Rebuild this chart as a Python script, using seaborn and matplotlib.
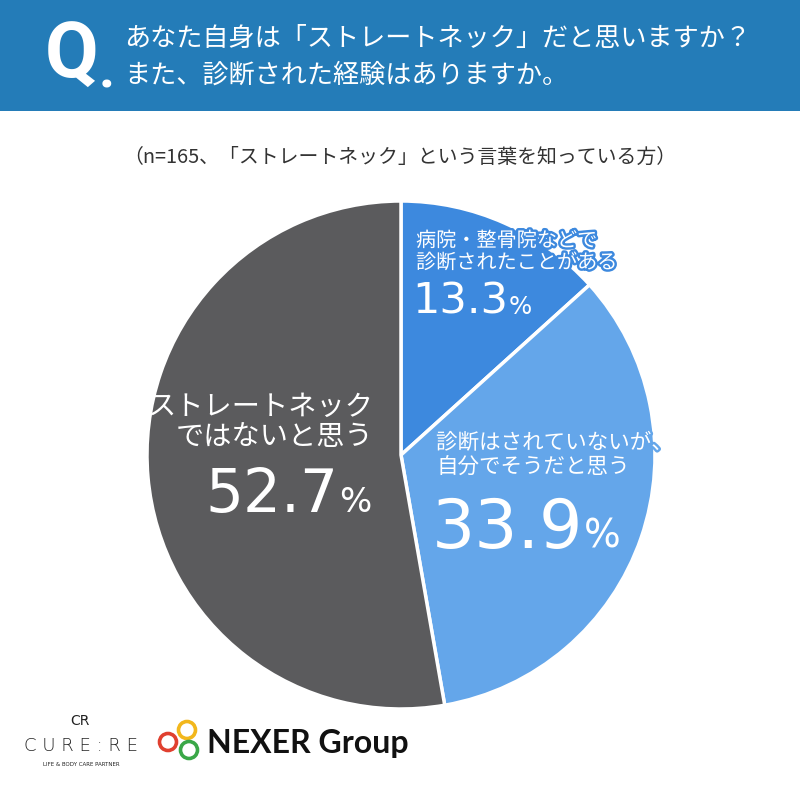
import matplotlib
matplotlib.use("Agg")
import matplotlib.pyplot as plt
import matplotlib.patheffects as pe
from matplotlib.patches import Rectangle, Circle
import seaborn as sns

# data
labels = ["病院・整骨院などで\n診断されたことがある",
          "診断はされていないが、\n自分でそうだと思う",
          "ストレートネック\nではないと思う"]
values = [13.3, 33.9, 52.7]
colors = ["#3D89DE", "#64A6EA", "#5B5B5D"]

title_lines = ["あなた自身は「ストレートネック」だと思いますか？",
               "また、診断された経験はありますか。"]
subtitle = "（n=165、「ストレートネック」という言葉を知っている方）"

sns.set_theme(style="white")
plt.rcParams['font.family'] = ['Noto Sans CJK JP', 'DejaVu Sans']

W, H = 800, 795
fig = plt.figure(figsize=(W / 100, H / 100), dpi=100)
fig.patch.set_facecolor("white")
renderer = fig.canvas.get_renderer()
NUM_FONT = ["DejaVu Sans"]


def px(x, y):
    # pixel coords (from top-left) -> figure fraction
    return x / W, 1 - y / H


def percent_label(x, y, value, size):
    t = fig.text(*px(x, y), f"{value}", color="white", fontsize=size,
                 va="baseline", family=NUM_FONT)
    bb = t.get_window_extent(renderer)
    fig.text((bb.x1 + 1) / W, 1 - y / H, "%", color="white",
             fontsize=size * 0.57, va="baseline", family=NUM_FONT)


# header band
fig.patches.append(Rectangle((0, 1 - 111 / H), 1, 111 / H, transform=fig.transFigure,
                             facecolor="#247CB8", edgecolor="none", zorder=0))
fig.text(*px(45, 57), "Q", color="white", fontsize=56, fontweight="bold",
         ha="left", va="center", family=["Roboto", "DejaVu Sans"])
fig.text(*px(99, 88), ".", color="white", fontsize=40, fontweight="bold",
         ha="left", va="baseline", family=["Roboto", "DejaVu Sans"])
fig.text(*px(124, 38), title_lines[0], color="white", fontsize=18.8,
         ha="left", va="center")
fig.text(*px(124, 75), title_lines[1], color="white", fontsize=18.8,
         ha="left", va="center")
fig.text(*px(400, 157), subtitle, color="#333333", fontsize=14.3,
         ha="center", va="center")

# pie
cx, cy, r = 401, 455, 254
ax = fig.add_axes([(cx - r) / W, (H - cy - r) / H, 2 * r / W, 2 * r / H])
ax.pie(values, colors=colors, startangle=90, counterclock=False,
       wedgeprops=dict(edgecolor="white", linewidth=2.5))
ax.set_xlim(-1, 1)
ax.set_ylim(-1, 1)
ax.set_aspect("auto")
ax.axis("off")

# labels
stroke = [pe.withStroke(linewidth=3.5, foreground=colors[0])]
l1 = labels[0].split("\n")
fig.text(*px(416, 241), l1[0], color="white", fontsize=14.5, va="center",
         path_effects=stroke)
fig.text(*px(416, 263), l1[1], color="white", fontsize=14.5, va="center",
         path_effects=stroke)
percent_label(412, 314, values[0], 31)

l2 = labels[1].split("\n")
stroke2 = [pe.withStroke(linewidth=3.5, foreground=colors[1])]
fig.text(*px(436, 443), l2[0], color="white", fontsize=15.5, va="center",
         path_effects=stroke2)
fig.text(*px(436, 468), l2[1], color="white", fontsize=15.5, va="center")
percent_label(432, 548, values[1], 49)

l3 = labels[2].split("\n")
fig.text(*px(373, 407), l3[0], color="white", fontsize=20.3, va="center", ha="right")
fig.text(*px(373, 437), l3[1], color="white", fontsize=20.3, va="center", ha="right")
percent_label(205, 512, values[2], 43)

# logos
canvas = fig.add_axes([0, 0, 1, 1], zorder=-1)
canvas.set_xlim(0, W)
canvas.set_ylim(H, 0)
canvas.axis("off")
canvas.patch.set_alpha(0)
for (x, y), c in zip([(187, 730), (168, 742), (189, 750)],
                     ["#F2B71C", "#E0402F", "#3AA747"]):
    canvas.add_patch(Circle((x, y), 8.5, fill=False, edgecolor=c, linewidth=2.6))
fig.text(*px(207, 743), "NEXER Group", color="#111111", fontsize=23,
         fontweight="bold", va="center", ha="left", family=["Lato", "DejaVu Sans"])
fig.text(*px(80, 721), "CR", color="#222222", fontsize=10, va="center", ha="center",
         family=["DejaVu Sans"])
fig.text(*px(81, 746), "C U R E : R E", color="#222222", fontsize=13, va="center",
         ha="center", family=["DejaVu Sans"], fontweight="light")
fig.text(*px(81, 764), "LIFE & BODY CARE PARTNER", color="#222222", fontsize=4,
         va="center", ha="center", family=["DejaVu Sans"])

fig.savefig("out.png", dpi=100, facecolor="white")
